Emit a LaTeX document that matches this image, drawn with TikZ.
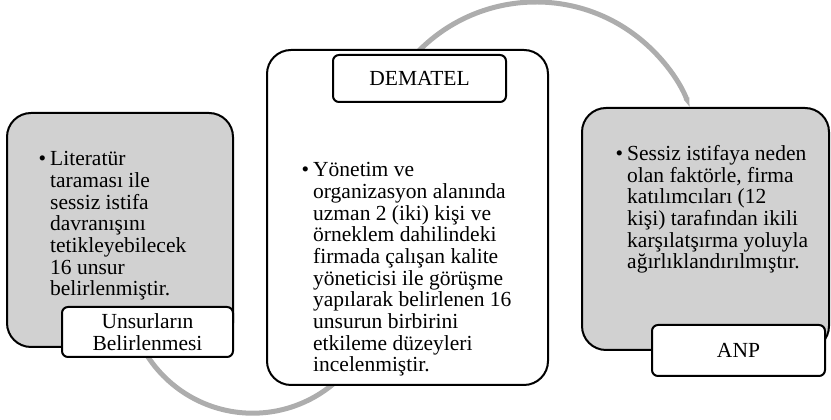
\documentclass[tikz,border=0pt]{standalone}
\usepackage{fontspec}
\setmainfont{Liberation Serif}
\usetikzlibrary{arrows.meta}

\definecolor{boxgray}{gray}{0.82}
\definecolor{arcgray}{gray}{0.68}

\begin{document}
\begin{tikzpicture}[
            x = 1pt, y = 1pt, % one unit is one pixel of the reference
            font = \fontsize{21.5}{21.7}\selectfont,
            bigbox/.style = {draw, line width = 2pt, rounded corners = 24pt, inner sep = 0pt},
            tagbox/.style = {draw, fill = white, line width = 2pt, rounded corners = 6pt,
                             align = center, inner sep = 0pt},
            itemtext/.style = {anchor = base west, align = left, inner sep = 0pt}, % base = last line
            loopline/.style = {draw = arcgray, line width = 5pt} % grey loop behind the boxes
        ]
        \useasboundingbox (0,0) rectangle (831,420);

        % centres of the two grey arcs
        \coordinate (lowC) at (252.7,132.3);
        \coordinate (topC) at (536,253);

        \draw[loopline] ([shift={(200:125.5)}]lowC) arc[start angle = 200, end angle = 315, radius = 125.5];
        \draw[loopline, -{Triangle[length = 10pt, width = 0pt 1]}]
            ([shift={(140:165)}]topC) arc[start angle = 140, end angle = 21, radius = 165];

        % the three steps
        \node[bigbox, fill = boxgray, minimum width = 226, minimum height = 234] (lit) at (120,190) {};
        \node[bigbox, fill = white, minimum width = 281, minimum height = 335] (dem) at (407.5,202.5) {};
        \node[bigbox, fill = boxgray, minimum width = 247, minimum height = 242] (anp) at (705.5,191) {};

        \node[itemtext] (litText) at (50,124)
            {\llap{\textbullet\hspace{4pt}}Literatür\\taraması ile\\sessiz istifa\\davranışını\\tetikleyebilecek\\16 unsur\\belirlenmiştir.};
        \node[itemtext] (demText) at (313,48)
            {\llap{\textbullet\hspace{4pt}}Yönetim ve\\organizasyon alanında\\uzman 2 (iki) kişi ve\\örneklem dahilindeki\\firmada çalışan kalite\\yöneticisi ile görüşme\\yapılarak belirlenen 16\\unsurun birbirini\\etkileme düzeyleri\\incelenmiştir.};
        \node[itemtext] (anpText) at (627,151)
            {\llap{\textbullet\hspace{4pt}}Sessiz istifaya neden\\olan faktörle, firma\\katılımcıları (12\\kişi) tarafından ikili\\karşılatşırma yoluyla\\ağırlıklandırılmıştır.};

        % step names
        \node[tagbox, minimum width = 171, minimum height = 50] (litTag) at (147.5,88) {Unsurların\\Belirlenmesi};
        \node[tagbox, minimum width = 173, minimum height = 47] (demTag) at (419.5,341.5) {DEMATEL};
        \node[tagbox, minimum width = 173, minimum height = 51] (anpTag) at (738.5,69.5) {ANP};
\end{tikzpicture}
\end{document}
